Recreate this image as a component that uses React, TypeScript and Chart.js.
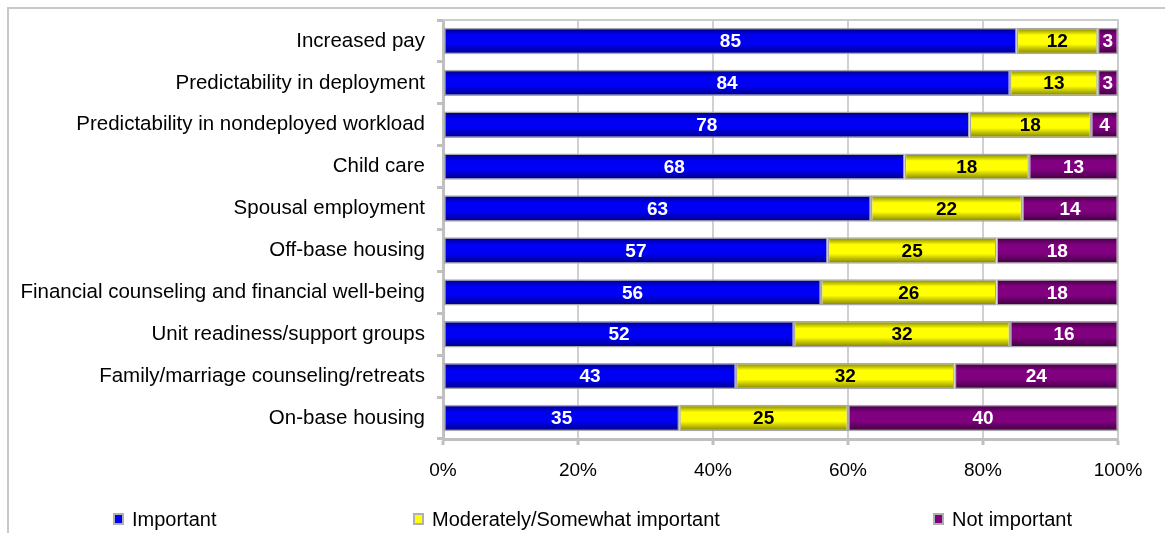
import React, { useEffect, useRef } from "react";
import { Chart, registerables } from "chart.js";

Chart.register(...registerables);

const categories = [
  "Increased pay",
  "Predictability in deployment",
  "Predictability in nondeployed workload",
  "Child care",
  "Spousal employment",
  "Off-base housing",
  "Financial counseling and financial well-being",
  "Unit readiness/support groups",
  "Family/marriage counseling/retreats",
  "On-base housing",
];
const important = [85, 84, 78, 68.4, 63.4, 57, 56, 52, 43.4, 35];
const moderately = [12, 13, 18, 18.4, 22.4, 25, 26, 32, 32.4, 25];
const notImportant = [3, 3, 4, 13.2, 14.2, 18, 18, 16, 24.2, 40];
const seriesNames = ["Important", "Moderately/Somewhat important", "Not important"];
const seriesColors = ["#0000f5", "#ffff00", "#800080"];
const seriesDark = ["#000080", "#7a7a00", "#3c003c"];
const xTicks = [0, 20, 40, 60, 80, 100];

const FONT = "'Liberation Sans', Arial, sans-serif";

const shadePlugin = {
  id: "barShade",
  beforeDatasetsDraw(chart: any) {
    const ctx = chart.ctx;
    chart.data.datasets.forEach((_ds: any, di: number) => {
      const meta = chart.getDatasetMeta(di);
      meta.data.forEach((el: any) => {
        const h = el.height;
        if (!isFinite(el.y) || !isFinite(h) || h <= 0) return;
        const g = ctx.createLinearGradient(0, el.y - h / 2, 0, el.y + h / 2);
        g.addColorStop(0, seriesDark[di]);
        g.addColorStop(0.28, seriesColors[di]);
        g.addColorStop(0.62, seriesColors[di]);
        g.addColorStop(1, seriesDark[di]);
        el.options = Object.assign({}, el.options, { backgroundColor: g });
      });
    });
  },
};

const labelPlugin = {
  id: "barLabels",
  afterDatasetsDraw(chart: any) {
    const ctx = chart.ctx;
    ctx.save();
    ctx.font = `bold 19px ${FONT}`;
    ctx.textAlign = "center";
    ctx.textBaseline = "middle";
    chart.data.datasets.forEach((ds: any, di: number) => {
      const meta = chart.getDatasetMeta(di);
      meta.data.forEach((el: any, i: number) => {
        const v = Math.round(ds.data[i]);
        ctx.fillStyle = di === 1 ? "#000000" : "#ffffff";
        ctx.fillText(String(v), (el.x + el.base) / 2, el.y + 1);
      });
    });
    ctx.restore();
  },
};

const framePlugin = {
  id: "plotFrame",
  beforeDatasetsDraw(chart: any) {
    const { ctx, chartArea } = chart;
    ctx.save();
    ctx.strokeStyle = "#cccccc";
    ctx.lineWidth = 2;
    ctx.beginPath();
    ctx.moveTo(chartArea.left, chartArea.top);
    ctx.lineTo(chartArea.right, chartArea.top);
    ctx.lineTo(chartArea.right, chartArea.bottom);
    ctx.stroke();
    ctx.restore();
  },
};

const legendX = [104, 404, 924];
const legendPlugin = {
  id: "spreadLegend",
  afterDraw(chart: any) {
    const ctx = chart.ctx;
    const yc = 510;
    ctx.save();
    ctx.font = `20px ${FONT}`;
    ctx.textBaseline = "middle";
    ctx.textAlign = "left";
    seriesNames.forEach((name, i) => {
      const x = legendX[i];
      ctx.fillStyle = "#b0b0b0";
      ctx.fillRect(x, yc - 6, 11, 12);
      ctx.fillStyle = seriesColors[i];
      ctx.fillRect(x + 2, yc - 4, 7, 8);
      ctx.fillStyle = "#000";
      ctx.fillText(name, x + 19, yc + 1);
    });
    ctx.restore();
  },
};

function ds(i: number, data: number[]) {
  return {
    label: seriesNames[i],
    data,
    backgroundColor: seriesColors[i],
    borderColor: "#a8a8a8",
    borderWidth: 1.5,
    borderSkipped: false,
    barPercentage: 0.63,
    categoryPercentage: 1,
  };
}

export default function App() {
  const ref = useRef<HTMLCanvasElement | null>(null);
  useEffect(() => {
    if (!ref.current) return;
    const chart = new Chart(ref.current, {
      type: "bar",
      data: {
        labels: categories,
        datasets: [ds(0, important), ds(1, moderately), ds(2, notImportant)],
      },
      options: {
        indexAxis: "y",
        animation: false,
        responsive: false,
        layout: { padding: { left: 0, right: 47, top: 11, bottom: 0 } },
        scales: {
          x: {
            stacked: true,
            min: 0,
            max: 100,
            afterBuildTicks: (s: any) => {
              s.ticks = xTicks.map((v) => ({ value: v }));
            },
            afterFit: (s: any) => {
              s.height = 94;
              s.paddingLeft = 0;
              s.paddingRight = 0;
            },
            ticks: {
              callback: (v: any) => `${v}%`,
              color: "#000",
              font: { family: FONT, size: 19 },
              padding: 14,
            },
            grid: {
              color: "#d0d0d0",
              lineWidth: 2,
              tickLength: 6,
              tickColor: "#c0c0c0",
              tickWidth: 3,
            },
            border: { color: "#c0c0c0", width: 3 },
          },
          y: {
            stacked: true,
            afterFit: (s: any) => {
              s.width = 434;
              s.paddingTop = 0;
              s.paddingBottom = 0;
            },
            ticks: {
              color: "#000",
              font: { family: FONT, size: 20.5 },
              padding: 12,
            },
            grid: {
              drawOnChartArea: false,
              tickLength: 6,
              tickColor: "#c0c0c0",
              tickWidth: 3,
              offset: true,
            },
            border: { color: "#c0c0c0", width: 3 },
          },
        },
        plugins: {
          legend: { display: false },
          tooltip: { enabled: false },
        },
      },
      plugins: [framePlugin, shadePlugin, labelPlugin, legendPlugin],
    } as any);
    return () => chart.destroy();
  }, []);
  return (
    <div
      style={{
        position: "absolute",
        left: 7,
        top: 7,
        width: 1158,
        height: 526,
        borderTop: "2px solid #c8c8c8",
        borderLeft: "2px solid #c8c8c8",
        background: "#fff",
      }}
    >
      <canvas ref={ref} width={1156} height={524} style={{ display: "block" }} />
    </div>
  );
}
